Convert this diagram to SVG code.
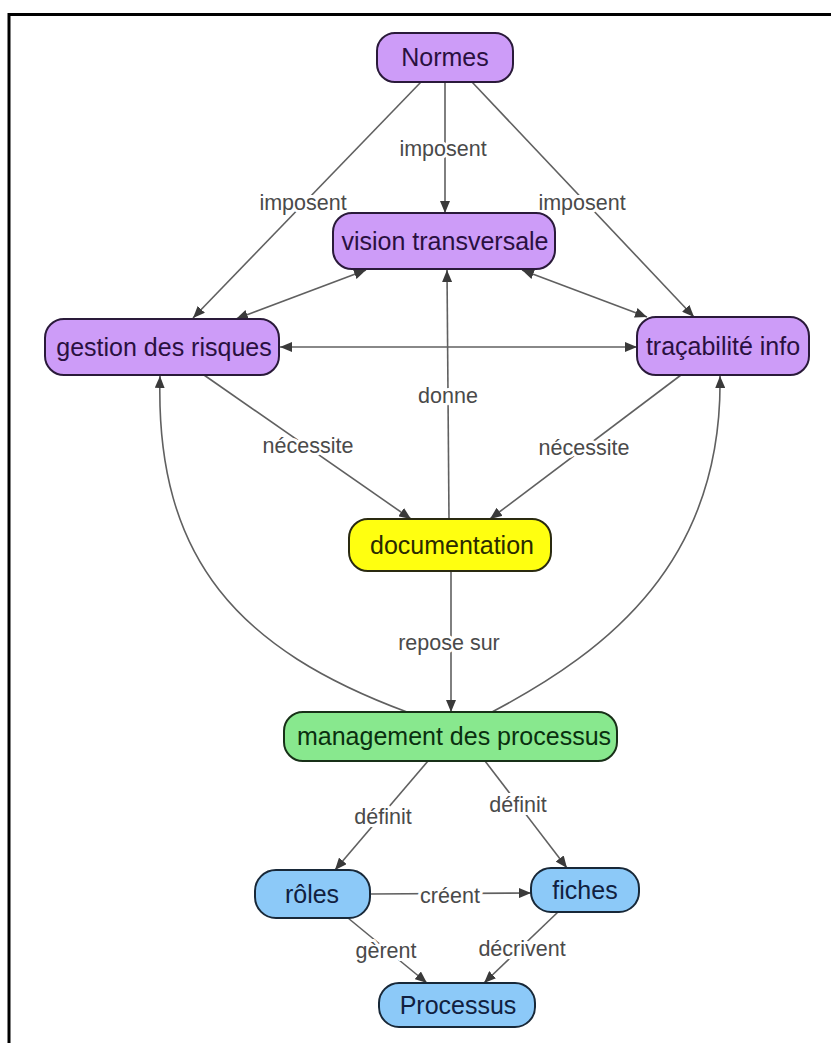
<svg xmlns="http://www.w3.org/2000/svg" width="831" height="1043" viewBox="0 0 831 1043">
<style>
.node rect{stroke-width:2}
.purple rect{fill:#cd9cf8;stroke:#2a1a3a}
.purple text{fill:#2a1040}
.yellow rect{fill:#ffff10;stroke:#2a2a10}
.yellow text{fill:#2a2a00}
.green rect{fill:#88e88e;stroke:#183018}
.green text{fill:#0a300f}
.blue rect{fill:#8cc9f8;stroke:#182838}
.blue text{fill:#102040}
.node text{font-family:"Liberation Sans",Arial,sans-serif;font-size:25px;text-anchor:middle}
.edge{fill:none;stroke:#606060;stroke-width:1.6}
.lbl{font-family:"Liberation Sans",Arial,sans-serif;font-size:21.5px;fill:#4a4a4a;text-anchor:middle;stroke:#fff;stroke-width:6px;paint-order:stroke;stroke-linejoin:round}
</style>
<defs>
<marker id="ah" viewBox="0 0 12 10" refX="12" refY="5" markerWidth="12" markerHeight="10" markerUnits="userSpaceOnUse" orient="auto-start-reverse">
<path d="M0,0 L12,5 L0,10 z" fill="#3a3a3a"/>
</marker>
</defs>
<rect x="9" y="14.5" width="840" height="1040" fill="#fff" stroke="#000" stroke-width="3"/>
<g id="connectors">
<line class="edge" x1="421" y1="82" x2="193" y2="318" marker-end="url(#ah)"/>
<line class="edge" x1="445" y1="82" x2="445" y2="213" marker-end="url(#ah)"/>
<line class="edge" x1="472" y1="82" x2="694" y2="317" marker-end="url(#ah)"/>
<line class="edge" x1="366" y1="270" x2="236" y2="319" marker-start="url(#ah)" marker-end="url(#ah)"/>
<line class="edge" x1="522" y1="270" x2="647" y2="317" marker-start="url(#ah)" marker-end="url(#ah)"/>
<line class="edge" x1="280" y1="347" x2="637" y2="347" marker-start="url(#ah)" marker-end="url(#ah)"/>
<line class="edge" x1="449" y1="519" x2="447" y2="270" marker-end="url(#ah)"/>
<line class="edge" x1="204" y1="375" x2="411" y2="519" marker-end="url(#ah)"/>
<line class="edge" x1="681" y1="375" x2="490" y2="519" marker-end="url(#ah)"/>
<line class="edge" x1="451" y1="571" x2="451" y2="712" marker-end="url(#ah)"/>
<path class="edge" d="M407,712 C240,650 155,560 160,376" marker-end="url(#ah)"/>
<path class="edge" d="M492,712 C610,650 723,560 720,376" marker-end="url(#ah)"/>
<line class="edge" x1="428" y1="761" x2="335" y2="870" marker-end="url(#ah)"/>
<line class="edge" x1="485" y1="761" x2="567" y2="868" marker-end="url(#ah)"/>
<line class="edge" x1="370" y1="894" x2="531" y2="893" marker-end="url(#ah)"/>
<line class="edge" x1="348" y1="918" x2="427" y2="983" marker-end="url(#ah)"/>
<line class="edge" x1="558" y1="912" x2="484" y2="983" marker-end="url(#ah)"/>
<text class="lbl" x="443" y="155.5">imposent</text>
<text class="lbl" x="303" y="209.5">imposent</text>
<text class="lbl" x="582" y="209.5">imposent</text>
<text class="lbl" x="448" y="402.5">donne</text>
<text class="lbl" x="308" y="452.5">nécessite</text>
<text class="lbl" x="584" y="454.5">nécessite</text>
<text class="lbl" x="449" y="649.5">repose sur</text>
<text class="lbl" x="383" y="823.5">définit</text>
<text class="lbl" x="518" y="811.5">définit</text>
<text class="lbl" x="450" y="902.5">créent</text>
<text class="lbl" x="386" y="957.5">gèrent</text>
<text class="lbl" x="522" y="955.5">décrivent</text>
</g>
<g id="normes" class="node purple"><rect x="377" y="33" width="136" height="49" rx="18"/><text x="445" y="66">Normes</text></g>
<g id="vision" class="node purple"><rect x="333" y="213" width="222" height="56" rx="19"/><text x="445" y="250">vision transversale</text></g>
<g id="gestion" class="node purple"><rect x="45" y="319" width="234" height="56" rx="19"/><text x="164" y="356">gestion des risques</text></g>
<g id="tracabilite" class="node purple"><rect x="637" y="317" width="172" height="58" rx="19"/><text x="723" y="355">traçabilité info</text></g>
<g id="documentation" class="node yellow"><rect x="349" y="519" width="202" height="52" rx="19"/><text x="452" y="554">documentation</text></g>
<g id="management" class="node green"><rect x="284" y="712" width="333" height="49" rx="19"/><text x="454" y="745">management des processus</text></g>
<g id="roles" class="node blue"><rect x="255" y="870" width="115" height="48" rx="21"/><text x="312" y="903">rôles</text></g>
<g id="fiches" class="node blue"><rect x="531" y="868" width="108" height="44" rx="20"/><text x="585" y="899">fiches</text></g>
<g id="processus" class="node blue"><rect x="379" y="983" width="156" height="44" rx="20"/><text x="458" y="1014">Processus</text></g>
</svg>
